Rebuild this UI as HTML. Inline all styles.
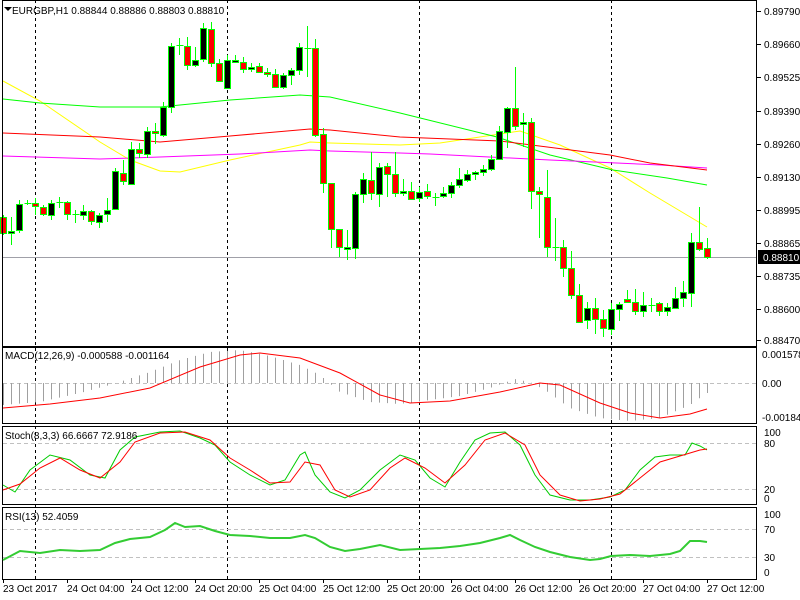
<!DOCTYPE html>
<html><head><meta charset="utf-8"><style>
html,body{margin:0;padding:0;background:#fff;}
svg{display:block;font-family:"Liberation Sans",sans-serif;font-size:10px;}
</style></head><body>
<svg id="s" width="800" height="600" xmlns="http://www.w3.org/2000/svg">
<rect width="800" height="600" fill="#fff"/>
<g id="g"></g>
</svg>
<script>
var S='';
function L(x1,y1,x2,y2,c,w,d){S+='<line x1="'+x1+'" y1="'+y1+'" x2="'+x2+'" y2="'+y2+'" stroke="'+c+'" stroke-width="'+(w||1)+'"'+(d?' stroke-dasharray="'+d+'"':'')+'/>';}
function P(pts,c,w){S+='<polyline fill="none" stroke="'+c+'" stroke-width="'+(w||1)+'" points="'+pts.map(function(p){return p[0]+','+p[1]}).join(' ')+'"/>';}
function T(x,y,t,a,c){S+='<text x="'+x+'" y="'+y+'"'+(a?' text-anchor="'+a+'"':'')+' fill="'+(c||'#000')+'">'+t+'</text>';}
function interp(pts,x){for(var i=0;i<pts.length-1;i++){if(x<=pts[i+1][0]){var a=pts[i],b=pts[i+1];return a[1]+(b[1]-a[1])*(x-a[0])/(b[0]-a[0]);}}return pts[pts.length-1][1];}
[35,227,419,611].forEach(function(x){L(x+.5,0,x+.5,579,'#000',1,'3,3');});
function box(y1,y2){S+='<rect x="2.5" y="'+y1+'.5" width="754" height="'+(y2-y1)+'" fill="none" stroke="#000"/>';}
P([[3,81],[40,101],[100,142],[130,160],[160,171],[180,172],[230,160],[300,145],[310,142],[330,143],[400,145],[440,143],[520,131],[560,145],[610,168],[650,193],[707,227]],'#ffff00');
P([[3,99],[40,103],[100,107],[160,107],[230,100],[300,95],[330,97],[400,113],[497,137],[550,155],[613,170],[667,178],[707,185]],'#00ff00');
P([[3,156],[100,159],[160,157],[240,154],[310,150],[330,151],[400,153],[430,154],[550,160],[660,165],[707,168]],'#ff00ff');
P([[3,133],[100,137],[160,142],[230,136],[310,129],[330,130],[400,137],[500,141],[610,155],[650,163],[707,170]],'#ff0000');
L(2,257.5,757,257.5,'#a0a0a8',1);
var C=[['r',217,233,215,235],['b',231,233,217,245],['b',204,230,200,233],['d',203,203,200,205],['r',203,206,198,215],['r',207,214,205,216],['b',203,215,200,220],['d',202,202,197,208],['r',202,214,201,220],['d',214,214,210,223],
['b',211,215,205,220],['r',211,221,210,225],['b',215,222,213,228],['b',210,214,198,222],['b',171,209,168,209],['r',173,181,160,185],['b',149,184,142,185],['r',149,153,143,158],['b',131,154,127,158],['r',131,133,123,144],
['b',107,135,102,137],['b',46,107,43,113],['d',45,45,38,55],['r',46,65,37,70],['b',60,65,47,67],['b',28,59,23,62],['r',29,63,22,67],['r',63,81,59,82],['b',60,88,55,88],['b',60,62,55,63],
['r',62,69,57,73],['b',67,69,63,72],['r',66,72,63,73],['r',72,74,68,77],['r',74,87,69,87],['b',75,87,73,89],['b',70,75,68,85],['b',47,70,43,75],['d',48,48,26,77],['r',48,135,39,137],
['r',134,183,128,193],['r',183,229,183,248],['r',229,247,229,257],['b',247,249,230,260],['b',194,248,192,259],['b',179,194,173,203],['r',180,193,152,200],['b',167,194,163,207],['r',166,174,163,197],['r',174,193,152,197],
['b',191,193,179,196],['r',191,199,182,200],['b',192,198,187,202],['r',191,196,184,199],['d',197,197,193,206],['b',193,196,187,198],['b',185,193,182,198],['b',179,185,168,188],['b',174,180,170,182],['b',172,174,171,180],
['b',169,172,165,176],['b',159,169,155,171],['b',131,159,126,160],['b',108,132,107,148],['r',108,126,67,130],['b',122,124,113,147],['r',122,191,118,209],['r',191,194,187,238],['r',197,247,170,257],['d',247,247,218,261],
['r',247,268,240,277],['r',268,295,251,299],['r',295,322,284,323],['b',308,320,302,329],['r',308,319,298,334],['r',319,328,310,337],['b',309,329,303,335],['b',304,309,302,321],['r',299,302,290,303],['r',302,311,289,315],
['b',305,311,292,317],['d',305,305,298,312],['r',303,311,302,316],['b',307,311,303,316],['b',298,308,287,309],['b',292,298,281,307],['b',242,293,233,307],['r',242,249,207,251],['r',248,257,238,259]];
C.forEach(function(c,i){var x=3.5+8*i;L(x,c[3],x,c[4],'#00ff00',1);
 if(c[0]=='d'){L(x-3,c[1]+.5,x+4,c[1]+.5,'#00ff00',1);}
 else{var h=Math.max(c[2]-c[1],2);S+='<rect x="'+(x-3)+'" y="'+c[1]+'.5" width="6" height="'+h+'" fill="'+(c[0]=='b'?'#000':'#ff0000')+'" stroke="#00ff00"/>';}});
box(0,346);
[['0.89790',11],['0.89660',44],['0.89525',77],['0.89390',111],['0.89260',144],['0.89130',177],['0.88995',210],['0.88865',243],['0.88735',276],['0.88600',309],['0.88470',340]].forEach(function(p){L(757,p[1]+.5,761,p[1]+.5,'#000');T(764,p[1]+4,p[0]);});
S+='<rect x="758" y="250" width="42" height="14" fill="#000"/>';T(763,261,'0.88810',null,'#fff');
T(12,14,'EURGBP,H1  0.88844 0.88886 0.88803 0.88810');
S+='<polygon points="4,7 12,7 8,11" fill="#000"/>';
box(347,423);
L(3,383.5,756,383.5,'#c0c0c0',1,'4,3');
var H=[[3,405],[40,402],[80,393],[110,385],[150,372],[180,360],[210,352],[240,350],[270,356],[300,365],[320,375],[340,392],[370,402],[400,404],[430,400],[460,396],[490,388],[515,379],[530,382],[545,390],[570,408],[600,418],[630,421],[660,418],[690,405],[707,393]];
for(var i=0;i<89;i++){var x=3.5+8*i;L(x,383,x,interp(H,x),'#a0a0a0',1);}
P([[3,408],[50,404],[100,398],[150,388],[200,367],[240,355],[260,353],[300,358],[340,373],[380,395],[410,403],[450,401],[500,392],[540,383],[560,385],[600,403],[630,413],[660,418],[690,414],[707,409]],'#ff0000');
T(762,358,'0.001578');T(762,387,'0.00');T(762,421,'-0.001841');
T(5,359,'MACD(12,26,9) -0.000588 -0.001164');
box(426,504);
L(3,443.5,756,443.5,'#c0c0c0',1,'4,3');L(3,489.5,756,489.5,'#c0c0c0',1,'4,3');
P([[3,485],[15,492],[30,470],[50,455],[70,460],[90,475],[105,478],[120,450],[135,437],[160,432],[180,431],[200,438],[215,445],[230,462],[250,475],[270,485],[285,480],[300,455],[305,452],[315,475],[330,492],[345,498],[360,490],[380,470],[400,455],[415,460],[430,478],[445,487],[460,462],[475,440],[490,433],[505,432],[520,445],[535,475],[550,495],[570,500],[590,500],[610,497],[625,490],[640,470],[655,457],[670,455],[685,455],[692,443],[700,446],[707,450]],'#00cc00');
P([[3,490],[20,484],[40,468],[60,458],[80,470],[100,478],[120,462],[135,442],[160,433],[185,432],[210,440],[230,458],[250,470],[270,483],[290,482],[305,462],[320,465],[335,490],[350,497],[370,490],[390,468],[405,458],[425,468],[445,483],[465,465],[485,440],[505,433],[525,445],[540,475],[560,495],[580,501],[600,499],[620,494],[640,478],[660,462],[680,456],[700,450],[707,449]],'#ff0000');
T(764,436,'100');T(764,447,'80');T(764,493,'20');T(764,502,'0');
T(5,439,'Stoch(8,3,3) 66.6667 72.9186');
box(507,579);
L(3,529.5,756,529.5,'#c0c0c0',1,'4,3');L(3,557.5,756,557.5,'#c0c0c0',1,'4,3');
P([[3,560],[20,551],[40,553],[60,550],[80,551],[100,550],[115,543],[130,539],[150,537],[165,530],[175,523],[185,527],[200,526],[215,531],[230,535],[250,536],[270,538],[290,538],[305,535],[315,538],[330,547],[345,551],[360,549],[380,545],[400,550],[420,549],[440,548],[460,546],[480,543],[500,538],[510,535],[520,540],[535,547],[550,552],[570,557],[590,560],[600,559],[611,556],[630,555],[650,556],[670,554],[680,551],[690,541],[700,541],[707,542]],'#33cc33',2);
T(764,518,'100');T(764,533,'70');T(764,561,'30');T(764,576,'0');
T(5,520,'RSI(13) 52.4059');
var lb=['23 Oct 2017','24 Oct 04:00','24 Oct 12:00','24 Oct 20:00','25 Oct 04:00','25 Oct 12:00','25 Oct 20:00','26 Oct 04:00','26 Oct 12:00','26 Oct 20:00','27 Oct 04:00','27 Oct 12:00'];
lb.forEach(function(t,i){var x=3+64*i;L(x+.5,579,x+.5,583,'#000');T(x,592,t);});
document.getElementById('g').innerHTML=S;
</script>
</body></html>
